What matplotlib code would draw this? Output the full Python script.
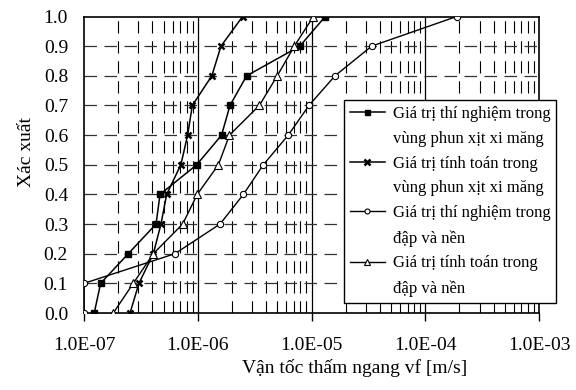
import matplotlib
matplotlib.use("Agg")
import matplotlib.pyplot as plt
from matplotlib.lines import Line2D
from matplotlib.ticker import FixedLocator, NullFormatter, NullLocator

plt.rcParams['font.family'] = ['Liberation Serif', 'DejaVu Serif']

prob = [0.0, 0.1, 0.2, 0.3, 0.4, 0.5, 0.6, 0.7, 0.8, 0.9, 1.0]

tn_phun = [1.23e-7, 1.4e-7, 2.45e-7, 4.3e-7, 4.66e-7, 9.8e-7, 1.62e-6, 1.92e-6, 2.69e-6, 7.9e-6, 1.32e-5]
tt_phun = [2.54e-7, 3.04e-7, 4.07e-7, 4.75e-7, 5.33e-7, 7.1e-7, 8.15e-7, 8.96e-7, 1.33e-6, 1.6e-6, 2.48e-6]
tn_dap = [1.0e-7, 1.0e-7, 6.3e-7, 1.57e-6, 2.52e-6, 3.77e-6, 6.25e-6, 9.5e-6, 1.61e-5, 3.38e-5, 1.89e-4]
tt_dap = [1.81e-7, 2.71e-7, 4.07e-7, 7.37e-7, 9.9e-7, 1.52e-6, 1.9e-6, 3.48e-6, 5.0e-6, 7.06e-6, 1.04e-5]

labels = [("Giá trị thí nghiệm trong", "vùng phun xịt xi măng"),
          ("Giá trị tính toán trong", "vùng phun xịt xi măng"),
          ("Giá trị thí nghiệm trong", "đập và nền"),
          ("Giá trị tính toán trong", "đập và nền")]
xticks = [1e-7, 1e-6, 1e-5, 1e-4, 1e-3]
xticklabels = ["1.0E-07", "1.0E-06", "1.0E-05", "1.0E-04", "1.0E-03"]
yticks = [0.0, 0.1, 0.2, 0.3, 0.4, 0.5, 0.6, 0.7, 0.8, 0.9, 1.0]

fig = plt.figure(figsize=(5.76, 3.9), dpi=100)
ax = fig.add_axes([84/576, 1-313/390, (539-84)/576, (313-16.5)/390])
ax.set_xscale('log')
ax.set_xlim(1e-7, 1e-3)
ax.set_ylim(0, 1.0)

# grid
minors = [m * 10.0**e for e in range(-7, -3) for m in range(2, 10)]
for v in minors:
    ax.axvline(v, color='black', lw=0.8, ls=(0, (11, 7)), zorder=1)
for v in xticks[1:-1]:
    ax.axvline(v, color='black', lw=0.9, zorder=1)
for v in yticks[1:-1]:
    ax.axhline(v, color='#333333', lw=0.9, ls=(0, (10, 6)), zorder=1)

l1, = ax.plot(tn_phun, prob, color='black', lw=1.1, marker='s', ms=4.5, mfc='black', mec='black', zorder=3)
l2, = ax.plot(tt_phun, prob, color='black', lw=1.1, marker='x', ms=5, mew=1.8, mec='black', zorder=3)
l3, = ax.plot(tn_dap, prob, color='black', lw=1.0, marker='o', ms=4.5, mfc='white', mec='black', mew=0.8, zorder=3)
l4, = ax.plot(tt_dap, prob, color='black', lw=1.0, marker='^', ms=5.5, mfc='white', mec='black', mew=0.8, zorder=3)

ax.xaxis.set_major_locator(FixedLocator(xticks))
ax.set_xticklabels(xticklabels)
ax.xaxis.set_minor_locator(NullLocator())
ax.xaxis.set_minor_formatter(NullFormatter())
ax.set_yticks(yticks)
ax.set_yticklabels([f"{v:.1f}" for v in yticks])
ax.tick_params(axis='x', which='major', direction='out', length=6, width=1, pad=11, labelsize=14)
ax.tick_params(axis='y', which='major', length=0, pad=11.5, labelsize=14)
for s in ax.spines.values():
    s.set_linewidth(1.2)

ax.set_xlabel("Vận tốc thấm ngang vf [m/s]", fontsize=14)
ax.xaxis.set_label_coords((355-84)/455, -(359-313)/296.5)
ax.set_ylabel("Xác xuất", fontsize=14)
ax.yaxis.set_label_coords(-(84-35)/455, (313-152)/296.5)

# legend: first line of each label carries the handle, second line none
blank = Line2D([], [], linestyle='none', marker=None)
handles, texts = [], []
for h, (a, b) in zip([l1, l2, l3, l4], labels):
    handles += [h, blank]
    texts += [a, b]
leg = ax.legend(handles, texts, loc='upper left',
                bbox_to_anchor=((344-84)/455, (313-100)/296.5),
                fontsize=12, frameon=True, fancybox=False, edgecolor='black',
                framealpha=1, borderaxespad=0, handlelength=2.1, handletextpad=0.48,
                labelspacing=0.53, borderpad=0.35, markerscale=0.8)
leg.get_frame().set_linewidth(1.0)
leg.set_zorder(5)

fig.savefig("out.png", dpi=100)
